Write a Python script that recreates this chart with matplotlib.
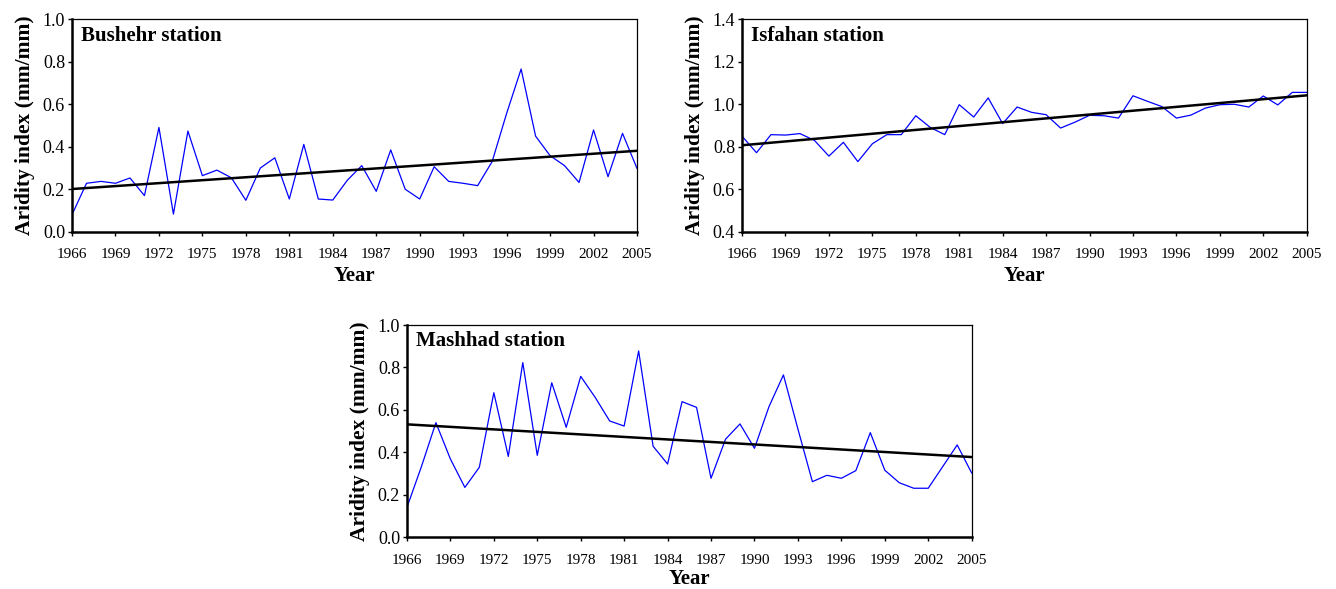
import matplotlib
matplotlib.use("Agg")
import matplotlib.pyplot as plt
import numpy as np

years = np.arange(1966, 2006)

bushehr = [0.08, 0.228, 0.237, 0.228, 0.253, 0.17, 0.491, 0.083, 0.474, 0.264,
           0.29, 0.254, 0.148, 0.30, 0.348, 0.154, 0.411, 0.154, 0.149, 0.242,
           0.311, 0.19, 0.385, 0.20, 0.154, 0.306, 0.237, 0.228, 0.217, 0.33,
           0.557, 0.766, 0.45, 0.358, 0.311, 0.232, 0.479, 0.259, 0.463, 0.298]

isfahan = [0.85, 0.772, 0.857, 0.855, 0.862, 0.83, 0.756, 0.821, 0.73, 0.814,
           0.857, 0.857, 0.946, 0.891, 0.857, 0.998, 0.94, 1.03, 0.909, 0.987,
           0.962, 0.951, 0.888, 0.916, 0.948, 0.946, 0.935, 1.04, 1.014, 0.989,
           0.935, 0.949, 0.982, 0.998, 1.0, 0.987, 1.039, 0.997, 1.056, 1.056]

mashhad = [0.141, 0.333, 0.54, 0.369, 0.235, 0.33, 0.681, 0.381, 0.823, 0.386,
           0.728, 0.518, 0.758, 0.659, 0.548, 0.524, 0.878, 0.429, 0.345, 0.639,
           0.612, 0.278, 0.462, 0.534, 0.419, 0.615, 0.765, 0.51, 0.262, 0.292,
           0.278, 0.314, 0.493, 0.316, 0.257, 0.231, 0.231, 0.333, 0.435, 0.303]

# trend lines read at the ends (1966, 2005)
trends = {
    "Bushehr": (0.201, 0.381),
    "Isfahan": (0.807, 1.042),
    "Mashhad": (0.532, 0.378),
}

plt.rcParams['font.family'] = ['Liberation Serif', 'DejaVu Serif']


def plot_station(ax, values, name, ylim, xpad=3.5):
    ax.plot(years, values, color='#0000ff', lw=0.9)
    t0, t1 = trends[name]
    ax.plot([years[0], years[-1]], [t0, t1], color='black', lw=1.8)
    ax.set_xlim(years[0], years[-1])
    ax.set_ylim(*ylim)
    ax.set_xticks(np.arange(1966, 2006, 3))
    ax.set_yticks(np.arange(ylim[0], ylim[1] + 0.01, 0.2))
    ax.yaxis.set_major_formatter(matplotlib.ticker.FormatStrFormatter('%.1f'))
    ax.tick_params(axis='x', labelsize=11, length=3, width=1, direction='out', pad=9)
    ax.tick_params(axis='y', labelsize=13, length=3, width=1, direction='out', pad=2)
    for s in ['left', 'bottom']:
        ax.spines[s].set_linewidth(1.8)
    for s in ['top', 'right']:
        ax.spines[s].set_linewidth(0.9)
    ax.set_xlabel('Year', fontsize=15, fontweight='bold', labelpad=xpad)
    ax.set_ylabel('Aridity index (mm/mm)', fontsize=15.5, fontweight='bold', labelpad=5.5)
    ax.text(0.016, 0.97, f'{name} station', transform=ax.transAxes,
            fontsize=15, fontweight='bold', va='top', ha='left')


fig = plt.figure(figsize=(13.36, 5.89), dpi=100)
ax1 = fig.add_axes([0.0539, 0.6066, 0.4229, 0.3606])
ax2 = fig.add_axes([0.5554, 0.6066, 0.4227, 0.3606])
ax3 = fig.add_axes([0.3046, 0.0878, 0.4227, 0.3604])

plot_station(ax1, bushehr, 'Bushehr', (0.0, 1.0))
plot_station(ax2, isfahan, 'Isfahan', (0.4, 1.4))
plot_station(ax3, mashhad, 'Mashhad', (0.0, 1.0), xpad=1.5)

plt.savefig('out.png', dpi=100)
